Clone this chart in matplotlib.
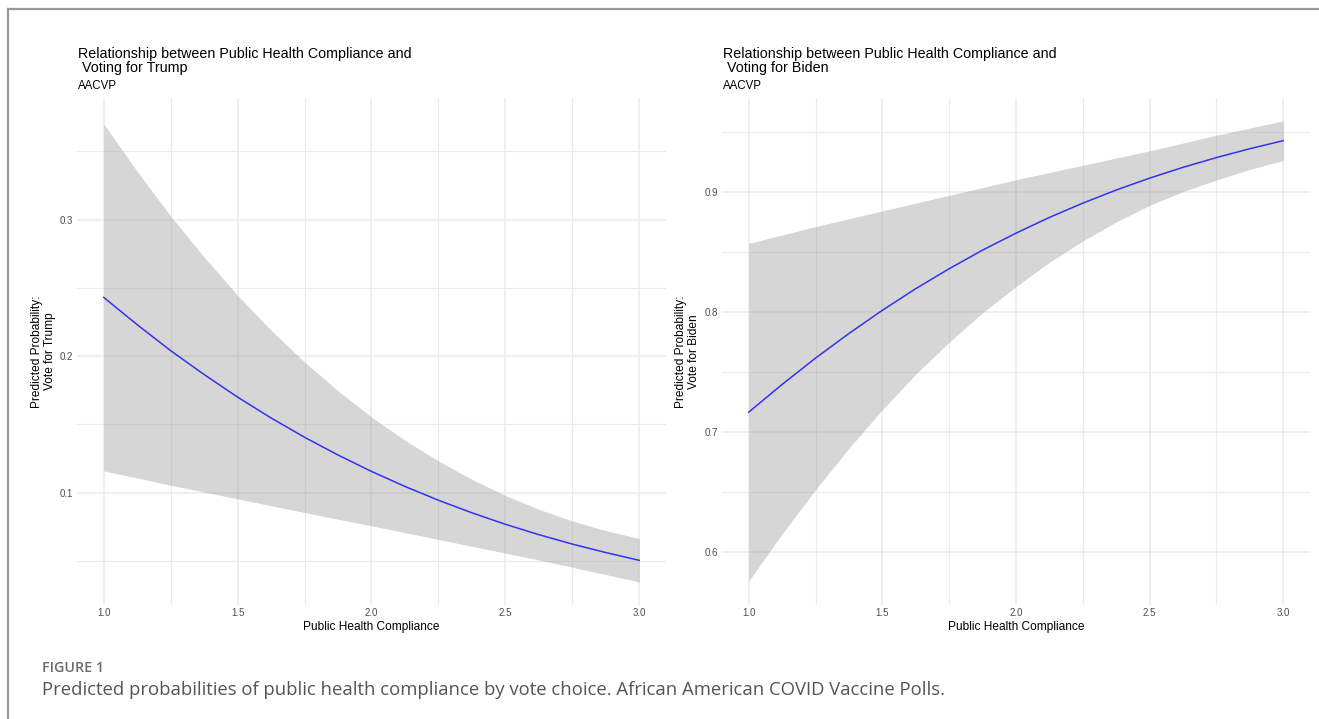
import matplotlib
matplotlib.use("Agg")
import matplotlib.pyplot as plt
from matplotlib.lines import Line2D

# ---- data ----
compliance = [1.0, 1.125, 1.25, 1.375, 1.5, 1.625, 1.75, 1.875, 2.0,
              2.125, 2.25, 2.375, 2.5, 2.625, 2.75, 2.875, 3.0]

trump_pred = [0.243, 0.2230, 0.204, 0.1865, 0.170, 0.1547, 0.1406, 0.1276, 0.1156,
              0.1046, 0.0945, 0.0853, 0.0769, 0.0693, 0.0624, 0.0562, 0.0505]
trump_low = [0.116, 0.1108, 0.1055, 0.1005, 0.0955, 0.0905, 0.0855, 0.0806, 0.0758,
             0.0708, 0.0658, 0.0608, 0.0558, 0.0507, 0.0455, 0.0401, 0.0347]
trump_high = [0.370, 0.3352, 0.3025, 0.2725, 0.2445, 0.2189, 0.1957, 0.1746, 0.1554,
              0.1384, 0.1232, 0.1098, 0.0980, 0.0879, 0.0793, 0.0723, 0.0665]

biden_pred = [0.7165, 0.7396, 0.7615, 0.7820, 0.8013, 0.8193, 0.8359, 0.8514, 0.8655,
              0.8786, 0.8905, 0.9014, 0.9113, 0.9203, 0.9284, 0.9358, 0.9425]
biden_low = [0.576, 0.6152, 0.652, 0.6865, 0.7186, 0.7481, 0.7748, 0.7993, 0.8210,
             0.8412, 0.8590, 0.8748, 0.8886, 0.9001, 0.9098, 0.9186, 0.9260]
biden_high = [0.857, 0.864, 0.871, 0.8775, 0.884, 0.8905, 0.897, 0.9035, 0.910,
              0.916, 0.922, 0.928, 0.934, 0.9405, 0.947, 0.953, 0.959]

x_ticks = [1.0, 1.5, 2.0, 2.5, 3.0]
x_ticklabels = ["1.0", "1.5", "2.0", "2.5", "3.0"]
trump_yticks = [0.1, 0.2, 0.3]
trump_yticklabels = ["0.1", "0.2", "0.3"]
biden_yticks = [0.6, 0.7, 0.8, 0.9]
biden_yticklabels = ["0.6", "0.7", "0.8", "0.9"]

titles = ["Relationship between Public Health Compliance and\n Voting for Trump",
          "Relationship between Public Health Compliance and\n Voting for Biden"]
subtitle = "AACVP"
xlabel = "Public Health Compliance"
ylabels = ["Predicted Probability:\nVote for Trump", "Predicted Probability:\nVote for Biden"]
caption_head = "FIGURE 1"
caption = ("Predicted probabilities of public health compliance by vote choice. "
           "African American COVID Vaccine Polls.")

W, H = 1319, 719
fig = plt.figure(figsize=(W / 100, H / 100), dpi=100)
fig.patch.set_facecolor("white")

FONT = "Liberation Sans"
GRID = "#ebebeb"


def fx(px):
    return px / W


def fy(py):
    return 1 - py / H


panels = [
    dict(left=77, right=666, top=98, bottom=605, ylim=(0.0178, 0.389),
         yticks=trump_yticks, ylabels=trump_yticklabels, minor=[0.05, 0.15, 0.25, 0.35],
         pred=trump_pred, low=trump_low, high=trump_high, title=titles[0], ylab=ylabels[0],
         title_x=78, ylab_x=43.5),
    dict(left=722, right=1310, top=98, bottom=605, ylim=(0.556, 0.978),
         yticks=biden_yticks, ylabels=biden_yticklabels, minor=[0.65, 0.75, 0.85, 0.95],
         pred=biden_pred, low=biden_low, high=biden_high, title=titles[1], ylab=ylabels[1],
         title_x=723, ylab_x=687.5),
]

for p in panels:
    ax = fig.add_axes([fx(p["left"]), fy(p["bottom"]),
                       fx(p["right"] - p["left"]), (p["bottom"] - p["top"]) / H])
    ax.set_xlim(0.9, 3.1)
    ax.set_ylim(*p["ylim"])
    for s in ax.spines.values():
        s.set_visible(False)
    ax.set_xticks(x_ticks)
    ax.set_xticklabels(x_ticklabels)
    ax.set_xticks([1.25, 1.75, 2.25, 2.75], minor=True)
    ax.set_yticks(p["yticks"])
    ax.set_yticklabels(p["ylabels"])
    ax.set_yticks(p["minor"], minor=True)
    ax.tick_params(which="both", length=0)
    ax.tick_params(axis="x", pad=2, labelsize=7, labelcolor="#4d4d4d")
    ax.tick_params(axis="y", pad=3, labelsize=7, labelcolor="#4d4d4d")
    for lab in ax.get_xticklabels() + ax.get_yticklabels():
        lab.set_fontfamily(FONT)
    ax.grid(True, which="major", color=GRID, lw=1.1)
    ax.grid(True, which="minor", color=GRID, lw=0.8)
    ax.set_axisbelow(True)

    ax.fill_between(compliance, p["low"], p["high"], color="#999999", alpha=0.4, lw=0)
    ax.plot(compliance, p["pred"], color="#3333ee", lw=1.1)

    ax.set_xlabel(xlabel, fontsize=8.6, family=FONT, labelpad=2.5)

    fig.text(fx(p["ylab_x"]), fy((p["top"] + p["bottom"]) / 2), p["ylab"], rotation=90,
             ha="center", va="center", fontsize=8.6, family=FONT, linespacing=1.12)
    fig.text(fx(p["title_x"]), fy(72), p["title"], ha="left", va="baseline",
             fontsize=10.25, family=FONT, linespacing=1.04)
    fig.text(fx(p["title_x"]), fy(89), subtitle, ha="left", va="baseline",
             fontsize=8.3, family=FONT)

# caption
fig.text(fx(42), fy(672), caption_head, ha="left", va="baseline", fontsize=10.3,
         family="Open Sans", fontweight="semibold", color="#6b6b6b")
fig.text(fx(42), fy(695), caption, ha="left", va="baseline", fontsize=13.3,
         family="Open Sans", color="#555555")

# frame lines (top and left)
fig.add_artist(Line2D([fx(8), 1.0], [fy(9), fy(9)], color="#999999", lw=1.6,
                      transform=fig.transFigure))
fig.add_artist(Line2D([fx(8), fx(8)], [fy(9), 0.0], color="#999999", lw=1.6,
                      transform=fig.transFigure))

fig.savefig("out.png", dpi=100, facecolor="white")
